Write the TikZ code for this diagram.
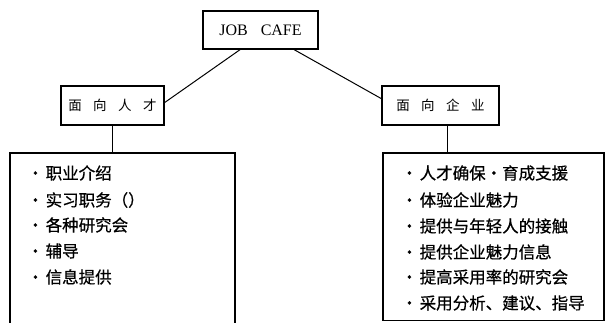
\documentclass[tikz,border=0pt]{standalone}
\usepackage{fontspec}
\setmainfont{Liberation Serif}
\newfontfamily\cjk{Noto Sans CJK SC}
\newfontfamily\cjkb[FakeBold=0.6]{Noto Sans CJK SC}
\begin{document}
\begin{tikzpicture}[x=1pt,y=1pt,
  boxline/.style={draw,line width=1.1pt},
  conn/.style={line width=1pt},
  item/.style={anchor=west,inner sep=0pt,font=\cjkb\fontsize{16.5}{18}\selectfont}]
\useasboundingbox (0,0) rectangle (607,322);
% top box
\node[boxline,minimum width=115pt,minimum height=38pt,inner sep=0pt] (top) at (260.5,292) {\fontsize{16}{18}\selectfont JOB\hspace{13pt}CAFE};
% second level
\node[boxline,minimum width=103pt,minimum height=39pt,inner sep=0pt] (left) at (112.5,216.5) {\cjk\fontsize{13.5}{15}\selectfont 面\hspace{11.5pt}向\hspace{11.5pt}人\hspace{11.5pt}才};
\node[boxline,minimum width=117pt,minimum height=39pt,inner sep=0pt] (right) at (440.5,216.5) {\cjk\fontsize{13.5}{15}\selectfont 面\hspace{11.5pt}向\hspace{11.5pt}企\hspace{11.5pt}业};
% connectors
\coordinate (t1) at (241,273);
\coordinate (t2) at (293,273);
\coordinate (l1) at (164,219);
\coordinate (r1) at (382,223);
\draw[conn] (t1) -- (l1);
\draw[conn] (t2) -- (r1);
% list boxes
\draw[boxline] (10,-5) -- (10,169) -- (235,169) -- (235,-5);
\coordinate (lt) at (112,169);
\draw[boxline] (383,1.5) rectangle (604,169);
\coordinate (rt) at (447,169);
\coordinate (lb) at (112,197);
\coordinate (rb) at (447,197);
\draw[conn] (lb) -- (lt);
\draw[conn] (rb) -- (rt);
% left items
\node[item] (a1) at (27,149) {•\hspace{2pt}职业介绍};
\node[item] (a2) at (27,122) {•\hspace{2pt}实习职务（）};
\node[item] (a3) at (27,97) {•\hspace{2pt}各种研究会};
\node[item] (a4) at (27,71) {•\hspace{2pt}辅导};
\node[item] (a5) at (27,45) {•\hspace{2pt}信息提供};
% right items
\node[item] (b1) at (401,149) {•\hspace{2pt}人才确保•育成支援};
\node[item] (b2) at (401,122) {•\hspace{2pt}体验企业魅力};
\node[item] (b3) at (401,96) {•\hspace{2pt}提供与年轻人的接触};
\node[item] (b4) at (401,70) {•\hspace{2pt}提供企业魅力信息};
\node[item] (b5) at (401,45) {•\hspace{2pt}提高采用率的研究会};
\node[item] (b6) at (401,19) {•\hspace{2pt}采用分析、建议、指导};
\end{tikzpicture}
\end{document}
